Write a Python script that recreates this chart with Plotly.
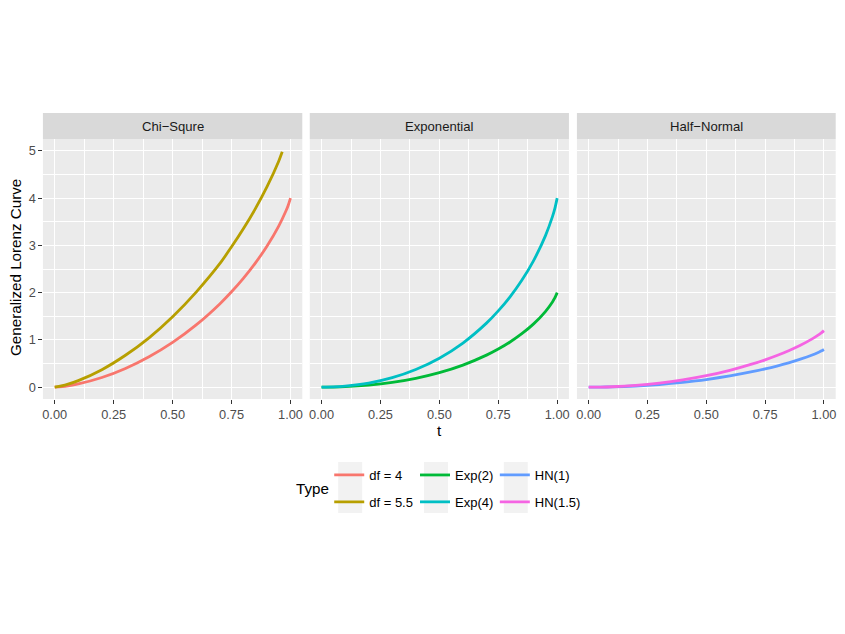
import plotly.graph_objects as go

# ---------------- data ----------------
t_chi4 = [0, 0.05, 0.1, 0.2, 0.3, 0.4, 0.5, 0.6, 0.7, 0.75, 0.8, 0.85, 0.9, 0.95, 0.98, 0.99, 1.0]
gl_df4 = [0, 0.023, 0.068, 0.204, 0.396, 0.644, 0.948, 1.317, 1.762, 2.018, 2.302, 2.620, 2.981, 3.408, 3.721, 3.845, 4.0]

t_chi55 = [0, 0.05, 0.1, 0.2, 0.3, 0.4, 0.5, 0.6, 0.7, 0.75, 0.8, 0.85, 0.9, 0.95, 0.965]
gl_df55 = [0, 0.053, 0.138, 0.370, 0.675, 1.044, 1.490, 2.012, 2.612, 2.969, 3.351, 3.767, 4.236, 4.781, 4.98]

t_grid = [0, 0.05, 0.1, 0.2, 0.3, 0.4, 0.5, 0.6, 0.7, 0.75, 0.8, 0.85, 0.9, 0.95, 0.98, 0.99, 1.0]
gl_exp2 = [0, 0.003, 0.010, 0.043, 0.101, 0.187, 0.307, 0.467, 0.678, 0.807, 0.956, 1.131, 1.339, 1.600, 1.804, 1.888, 2.0]
gl_exp4 = [0, 0.005, 0.021, 0.086, 0.201, 0.374, 0.614, 0.934, 1.355, 1.614, 1.912, 2.262, 2.679, 3.201, 3.607, 3.776, 4.0]
gl_hn1 = [0, 0.002, 0.006, 0.025, 0.057, 0.103, 0.162, 0.238, 0.332, 0.386, 0.447, 0.515, 0.592, 0.681, 0.745, 0.769, 0.798]
gl_hn15 = [0, 0.002, 0.009, 0.038, 0.086, 0.154, 0.243, 0.357, 0.497, 0.579, 0.670, 0.772, 0.887, 1.022, 1.117, 1.153, 1.197]

panels = ["Chi\u2212Squre", "Exponential", "Half\u2212Normal"]
x_ticks = [0, 0.25, 0.5, 0.75, 1.0]
x_tick_labels = ["0.00", "0.25", "0.50", "0.75", "1.00"]
y_ticks = [0, 1, 2, 3, 4, 5]

colors = {"df = 4": "#F8766D", "df = 5.5": "#B79F00", "Exp(2)": "#00BA38",
          "Exp(4)": "#00BFC4", "HN(1)": "#619CFF", "HN(1.5)": "#F564E3"}

series = [
    ("df = 4", t_chi4, gl_df4, 1, "legend"),
    ("df = 5.5", t_chi55, gl_df55, 1, "legend"),
    ("Exp(2)", t_grid, gl_exp2, 2, "legend2"),
    ("Exp(4)", t_grid, gl_exp4, 2, "legend2"),
    ("HN(1)", t_grid, gl_hn1, 3, "legend3"),
    ("HN(1.5)", t_grid, gl_hn15, 3, "legend3"),
]

FONT = "Liberation Sans, Arial, sans-serif"
OFF = 8                      # page body margin
W, H = 845 - 2 * OFF, 634 - 2 * OFF
TICK_FS = 12.8
STRIP_FS = 13.1
LEG_FS = 13
TITLE_FS = 15.2

fig = go.Figure()
for name, xs, ys, p, lg in series:
    sfx = "" if p == 1 else str(p)
    fig.add_trace(go.Scatter(
        x=xs, y=ys, mode="lines", name=name,
        line=dict(color=colors[name], width=2.8, shape="spline", smoothing=0.6),
        xaxis="x" + sfx, yaxis="y" + sfx, legend=lg, legendgroup=name,
    ))

# panel geometry in window pixels
px_left = [42, 309.5, 577.3]
px_right = [302, 569.3, 836.7]
panel_top, panel_bot = 139, 399
strip_top = 113

def fx(px):
    return (px - OFF) / W

def fy(py):
    return 1 - (py - OFF) / H

layout = dict(
    width=W, height=H,
    margin=dict(l=0, r=0, t=0, b=0),
    paper_bgcolor="white", plot_bgcolor="#EBEBEB",
    font=dict(family=FONT, color="#4D4D4D"),
    showlegend=True,
)

for i in range(3):
    sfx = "" if i == 0 else str(i + 1)
    layout["xaxis" + sfx] = dict(
        domain=[fx(px_left[i]), fx(px_right[i])],
        anchor="y" + sfx, range=[-0.05, 1.05],
        tickvals=x_ticks, ticktext=x_tick_labels,
        ticks="outside", ticklen=3.5, tickwidth=1, tickcolor="#333333",
        tickfont=dict(size=TICK_FS, color="#4D4D4D", family=FONT),
        showgrid=True, gridcolor="white", gridwidth=1.3,
        minor=dict(dtick=0.125, tick0=0, showgrid=True, gridcolor="white", gridwidth=0.6),
        zeroline=False, showline=False, fixedrange=True,
    )
    layout["yaxis" + sfx] = dict(
        domain=[fy(panel_bot), fy(panel_top)],
        anchor="x" + sfx, range=[-0.25, 5.25],
        tickvals=y_ticks,
        ticks="outside" if i == 0 else "", ticklen=3.5, tickwidth=1, tickcolor="#333333",
        showticklabels=(i == 0),
        tickfont=dict(size=TICK_FS, color="#4D4D4D", family=FONT),
        showgrid=True, gridcolor="white", gridwidth=1.3,
        minor=dict(dtick=0.5, tick0=0, showgrid=True, gridcolor="white", gridwidth=0.6),
        zeroline=False, showline=False, fixedrange=True,
    )
    if i > 0:
        layout["yaxis" + sfx]["matches"] = "y"

shapes = []
annotations = []
for i in range(3):
    shapes.append(dict(type="rect", xref="paper", yref="paper",
                       x0=fx(px_left[i]), x1=fx(px_right[i]),
                       y0=fy(panel_top), y1=fy(strip_top),
                       fillcolor="#D9D9D9", line=dict(width=0), layer="below"))
    annotations.append(dict(text=panels[i], xref="paper", yref="paper",
                            x=fx((px_left[i] + px_right[i]) / 2), y=fy((strip_top + panel_top) / 2),
                            xanchor="center", yanchor="middle", showarrow=False,
                            font=dict(size=STRIP_FS, color="#1A1A1A", family=FONT)))

# axis titles
annotations.append(dict(text="t", xref="paper", yref="paper", x=fx(439.5), y=fy(430),
                        xanchor="center", yanchor="middle", showarrow=False,
                        font=dict(size=TITLE_FS, color="black", family=FONT)))
annotations.append(dict(text="Generalized Lorenz Curve", xref="paper", yref="paper",
                        x=fx(14), y=fy(267), textangle=-90,
                        xanchor="center", yanchor="middle", showarrow=False,
                        font=dict(size=TITLE_FS, color="black", family=FONT)))
# legend title
annotations.append(dict(text="Type", xref="paper", yref="paper", x=fx(294), y=fy(488),
                        xanchor="left", yanchor="middle", showarrow=False,
                        font=dict(size=TITLE_FS, color="black", family=FONT)))

# legend key backgrounds
for kx in [338, 424, 504]:
    shapes.append(dict(type="rect", xref="paper", yref="paper",
                       x0=fx(kx), x1=fx(kx + 24), y0=fy(513), y1=fy(462),
                       fillcolor="#F2F2F2", line=dict(width=0), layer="below"))

layout["shapes"] = shapes
layout["annotations"] = annotations

leg_common = dict(yanchor="top", xanchor="left", bgcolor="rgba(0,0,0,0)",
                  font=dict(size=LEG_FS, color="black", family=FONT),
                  tracegroupgap=7, orientation="v", itemwidth=30)
layout["legend"] = dict(x=fx(329), y=fy(460), **leg_common)
layout["legend2"] = dict(x=fx(415), y=fy(460), **leg_common)
layout["legend3"] = dict(x=fx(495), y=fy(460), **leg_common)

fig.update_layout(**layout)
fig.write_html("out.html")
